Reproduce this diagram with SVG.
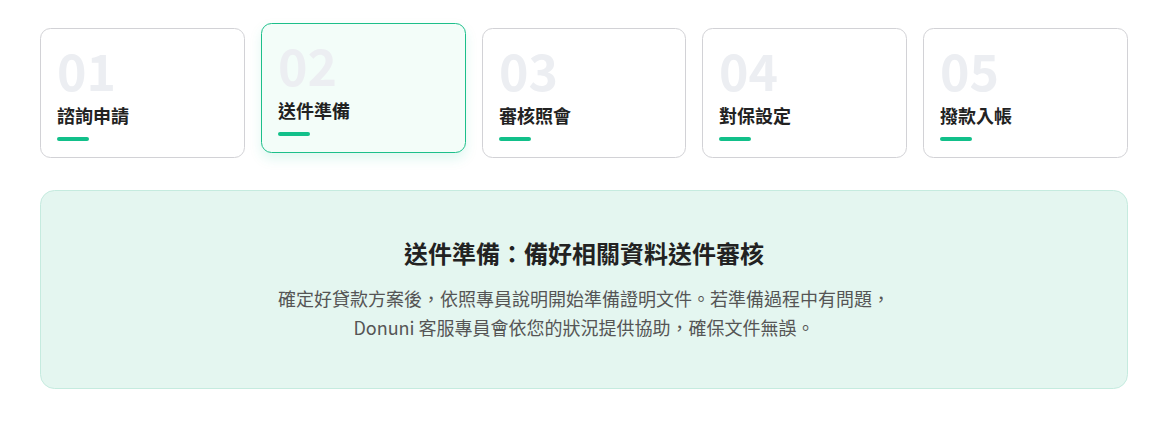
<svg xmlns="http://www.w3.org/2000/svg" width="1171" height="429" viewBox="0 0 1171 429">
<style>
.card{fill:#ffffff;stroke:#d2d2d6;stroke-width:1}
.active{fill:#f3fdf9;stroke:#1dbf8a;stroke-width:1}
.num{font-family:"Noto Sans CJK TC","Noto Sans",sans-serif;font-weight:700;font-size:50px;fill:#eceef2}
.ttl{font-family:"Noto Sans CJK TC","Noto Sans",sans-serif;font-weight:700;font-size:18px;fill:#222222}
.bar{fill:#12c08a}
.head{font-family:"Noto Sans CJK TC","Noto Sans",sans-serif;font-weight:700;font-size:24px;fill:#222222}
.para{font-family:"Noto Sans CJK TC","Noto Sans",sans-serif;font-size:18px;fill:#555555}
</style>
<defs>
<filter id="sh" x="-20%" y="-20%" width="140%" height="150%">
<feDropShadow dx="0" dy="6" stdDeviation="6" flood-color="#10c088" flood-opacity="0.12"/>
</filter>
</defs>
<rect width="1171" height="429" fill="#ffffff"/>
<g id="step1">
<rect class="card" x="40.5" y="28.5" width="204" height="129" rx="10"/>
<text class="num" x="57" y="91">01</text>
<text class="ttl" x="57" y="123">諮詢申請</text>
<rect class="bar" x="57" y="137" width="32" height="4" rx="2"/>
</g>
<g id="step2">
<rect class="active" x="261.5" y="23.5" width="204" height="129" rx="10" filter="url(#sh)"/>
<text class="num" x="278" y="86">02</text>
<text class="ttl" x="278" y="118">送件準備</text>
<rect class="bar" x="278" y="132" width="32" height="4" rx="2"/>
</g>
<g id="step3">
<rect class="card" x="482.5" y="28.5" width="203" height="129" rx="10"/>
<text class="num" x="499" y="91">03</text>
<text class="ttl" x="499" y="123">審核照會</text>
<rect class="bar" x="499" y="137" width="32" height="4" rx="2"/>
</g>
<g id="step4">
<rect class="card" x="702.5" y="28.5" width="204" height="129" rx="10"/>
<text class="num" x="719" y="91">04</text>
<text class="ttl" x="719" y="123">對保設定</text>
<rect class="bar" x="719" y="137" width="32" height="4" rx="2"/>
</g>
<g id="step5">
<rect class="card" x="923.5" y="28.5" width="204" height="129" rx="10"/>
<text class="num" x="940" y="91">05</text>
<text class="ttl" x="940" y="123">撥款入帳</text>
<rect class="bar" x="940" y="137" width="32" height="4" rx="2"/>
</g>
<g id="detail">
<rect x="40.5" y="190.5" width="1087" height="198" rx="14" fill="#e4f6f0" stroke="#c5ebdf" stroke-width="1"/>
<text class="head" x="584" y="263" text-anchor="middle">送件準備：備好相關資料送件審核</text>
<text class="para" x="584" y="306" text-anchor="middle">確定好貸款方案後，依照專員說明開始準備證明文件。若準備過程中有問題，</text>
<text class="para" x="584" y="335" text-anchor="middle">Donuni 客服專員會依您的狀況提供協助，確保文件無誤。</text>
</g>
<g id="connectors"></g>
</svg>
